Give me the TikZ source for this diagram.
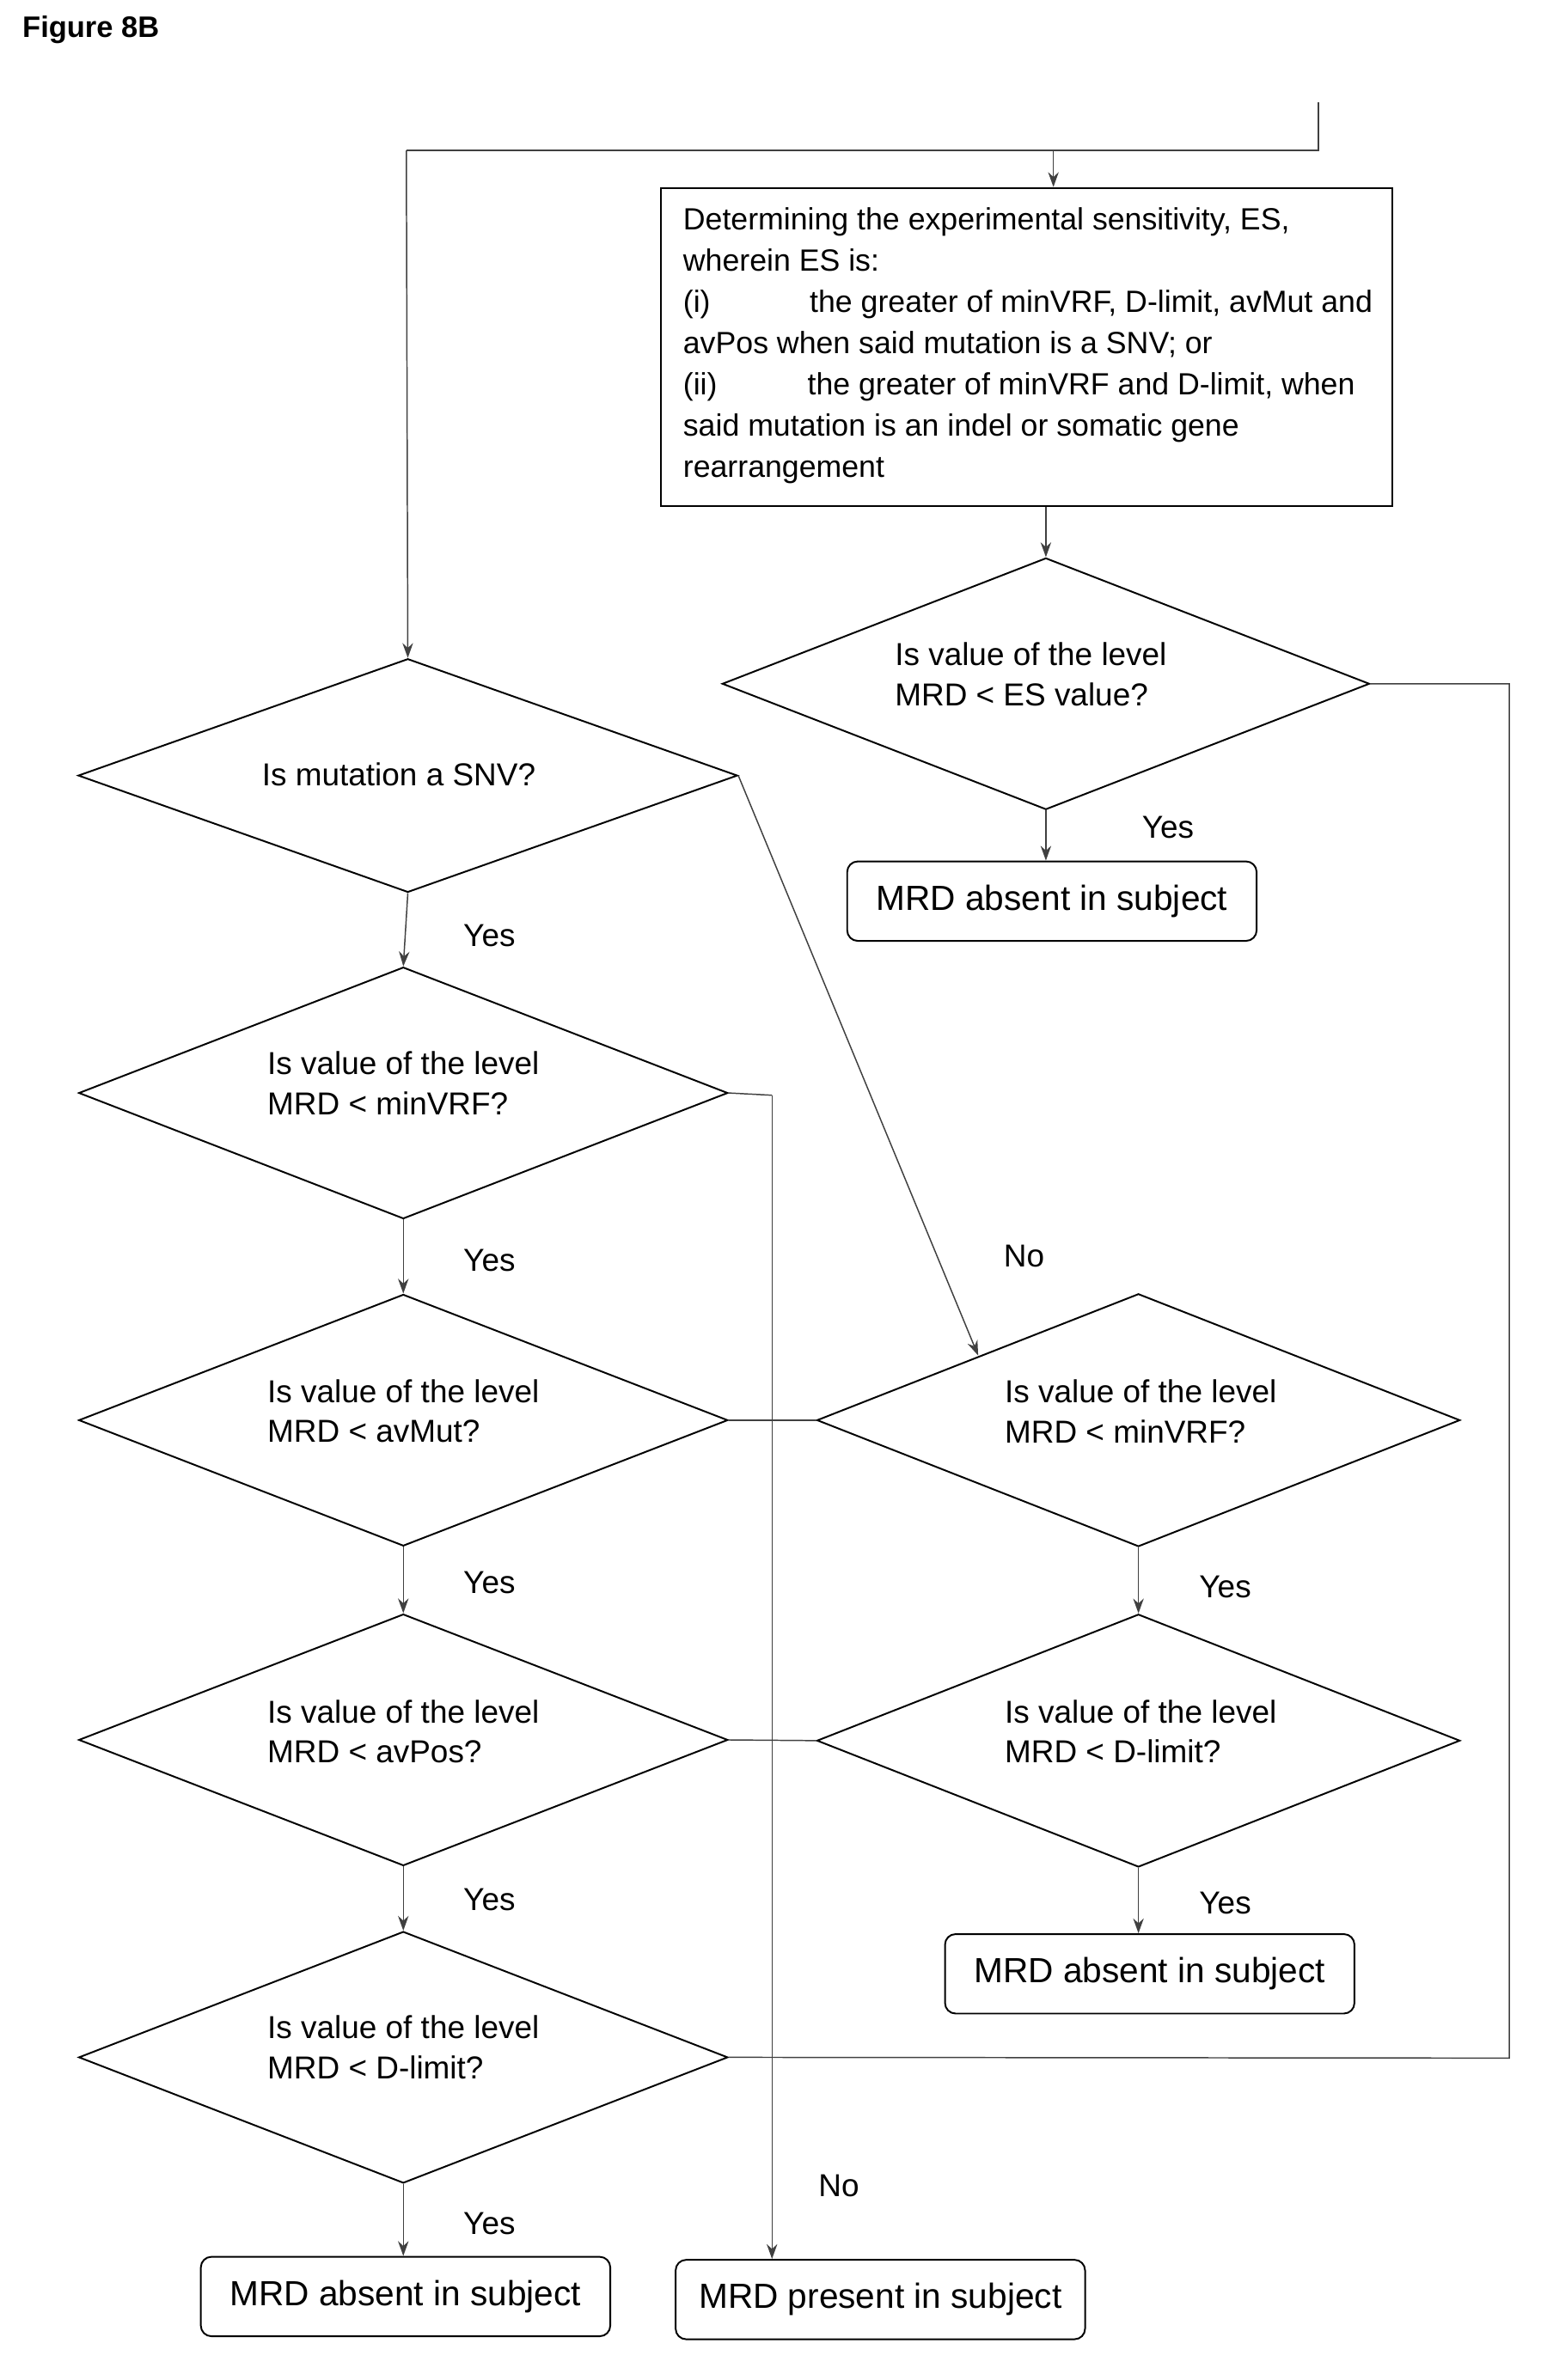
\documentclass[tikz,border=0pt]{standalone}
\usepackage{fontspec}
\setmainfont{Liberation Sans}
\usetikzlibrary{shapes.geometric,arrows.meta}
\begin{document}
\begin{tikzpicture}[x=0.025cm,y=-0.025cm,
    every node/.style={font=\fontsize{15}{19}\selectfont},
    decision/.style={diamond, draw, thick, inner sep=0pt, minimum width=10.78cm, minimum height=4.18cm},
    result/.style={rectangle, rounded corners=5pt, draw, thick, minimum width=6.8cm, minimum height=1.32cm, font=\fontsize{16.5}{20}\selectfont},
    stepbox/.style={rectangle, draw, thick, minimum width=12.15cm, minimum height=5.28cm},
    link/.style={draw=black!75, semithick},
    flow/.style={draw=black!75, semithick, -{Stealth[length=7pt,width=5pt]}},
    note/.style={anchor=west}]
   \useasboundingbox (0,0) rectangle (1024,1582);
   \node[anchor=west, font=\bfseries\fontsize{14}{17}\selectfont] (title) at (10,20) {Figure 8B};

   % right branch
   \node[stepbox] (det) at (682,230.5) {};
   \node[anchor=north west, align=left, font=\fontsize{14.5}{19.5}\selectfont] (dettext) at (449,133)
     {Determining the experimental sensitivity, ES,\\
      wherein ES is:\\
      (i)\hspace{1.65cm}the greater of minVRF, D-limit, avMut and\\
      avPos when said mutation is a SNV; or\\
      (ii)\hspace{1.5cm}the greater of minVRF and D-limit, when\\
      said mutation is an indel or somatic gene\\
      rearrangement};
   \node[decision, minimum width=10.75cm] (es) at (695,454.5) {};
   \node[align=left] at (685,448) {Is value of the level\\MRD < ES value?};
   \node[result] (abs1) at (699,599) {MRD absent in subject};

   % left column
   \node[decision, minimum width=10.95cm, minimum height=3.88cm] (snv) at (271,515.5) {};
   \node at (265,515) {Is mutation a SNV?};
   \node[decision] (vrf) at (268,726.5) {};
   \node[align=left] at (268,720) {Is value of the level\\MRD < minVRF?};
   \node[decision] (mut) at (268,944) {};
   \node[align=left] at (268,938) {Is value of the level\\MRD < avMut?};
   \node[decision] (pos) at (268,1156.5) {};
   \node[align=left] at (268,1151) {Is value of the level\\MRD < avPos?};
   \node[decision] (dlim) at (268,1367.5) {};
   \node[align=left] at (268,1361) {Is value of the level\\MRD < D-limit?};
   \node[result] (abs3) at (269.5,1526.5) {MRD absent in subject};
   \node[result] (pres) at (585,1528.5) {MRD present in subject};

   % middle column
   \node[decision, minimum width=10.68cm, minimum height=4.2cm] (vrf2) at (756.5,944) {};
   \node[align=left] at (758,938) {Is value of the level\\MRD < minVRF?};
   \node[decision, minimum width=10.68cm, minimum height=4.2cm] (dlim2) at (756.5,1157) {};
   \node[align=left] at (758,1151) {Is value of the level\\MRD < D-limit?};
   \node[result] (abs2) at (764,1312) {MRD absent in subject};

   \coordinate (start) at (876,68);
   \coordinate (split) at (876,100);
   \coordinate (drop) at (513,728);
   \coordinate (noend) at (650,901);

   \draw[link] (start) -- (split) -- (270,100);
   \draw[flow] (700,100) -- (det.north -| 700,0);
   \draw[flow] (270,100) -- (snv.north);
   \draw[flow] (det.south -| es.north) -- (es.north);
   \draw[flow] (es.south) -- (abs1.north -| es.south);
   \draw[link] (es.east) -- (1003,454.5) -- (1003,1368) -- (dlim.east);

   \draw[flow] (snv.south) -- (vrf.north);
   \draw[flow] (vrf.south) -- (mut.north);
   \draw[flow] (mut.south) -- (pos.north);
   \draw[flow] (pos.south) -- (dlim.north);
   \draw[flow] (dlim.south) -- (abs3.north -| dlim.south);
   \draw[flow] (snv.east) -- (noend);
   \draw[link] (vrf.east) -- (drop);
   \draw[flow] (drop) -- (pres.north -| drop);
   \draw[link] (mut.east) -- (vrf2.west);
   \draw[link] (pos.east) -- (dlim2.west);
   \draw[flow] (vrf2.south) -- (dlim2.north);
   \draw[flow] (dlim2.south) -- (abs2.north -| dlim2.south);

   \node[note] at (754,550) {Yes};
   \node[note] at (303,622) {Yes};
   \node[note] at (303,838) {Yes};
   \node[note] at (303,1052) {Yes};
   \node[note] at (303,1263) {Yes};
   \node[note] at (303,1478) {Yes};
   \node[note] at (792,1055) {Yes};
   \node[note] at (792,1265) {Yes};
   \node[note] at (662,835) {No};
   \node[note] at (539,1453) {No};
 \end{tikzpicture}
\end{document}
